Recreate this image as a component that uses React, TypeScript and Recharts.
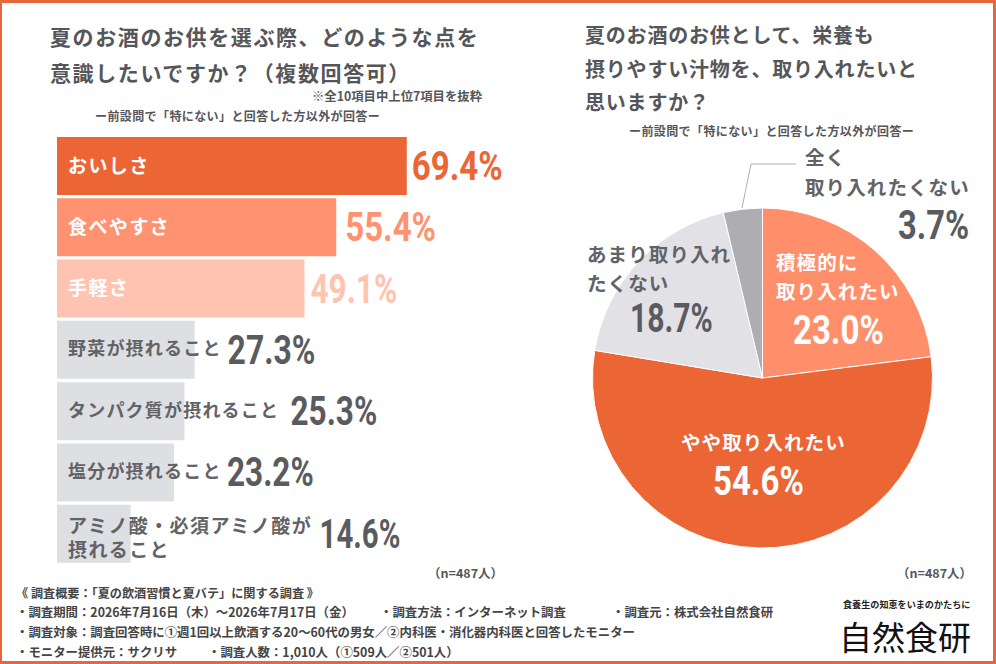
import { BarChart, Bar, Cell, XAxis, YAxis, LabelList, PieChart, Pie } from "recharts";

const categories = [
  "おいしさ",
  "食べやすさ",
  "手軽さ",
  "野菜が摂れること",
  "タンパク質が摂れること",
  "塩分が摂れること",
  "アミノ酸・必須アミノ酸が\n摂れること",
];
const shares = [69.4, 55.4, 49.1, 27.3, 25.3, 23.2, 14.6];

const pieNames = ["積極的に\n取り入れたい", "やや取り入れたい", "あまり取り入れ\nたくない", "全く\n取り入れたくない"];
const pieValues = [23.0, 54.6, 18.7, 3.7];

const barColors = ["#EB6535", "#FF9270", "#FFC3B2", "#DEDFE3", "#DEDFE3", "#DEDFE3", "#DEDFE3"];
const barTextColors = ["#fff", "#fff", "#fff", "#626367", "#626367", "#626367", "#626367"];
const barValueColors = ["#EB6535", "#FF9270", "#FFC3B2", "#5A5B5F", "#5A5B5F", "#5A5B5F", "#5A5B5F"];
// distance from the bar end to the start of its percent label, and the label's drawn width
const valueGaps = [5, 9, 6, 33, 106, 53, 189];
const valueWidths = [90, 90, 86, 87, 86, 86, 80];

const pieColors = ["#FF8F6B", "#EB6535", "#E1E1E6", "#AEADB2"];
const BORDER = "#E8663D";
const INK = "#555659";
const JP = '"Noto Sans CJK JP", "Noto Sans", sans-serif';
const NUM = "Roboto, sans-serif";
// width of "00.0%" in bold Roboto at 40px, used to squeeze the numbers into a condensed look
const NUM_BASE_WIDTH = 109;

const PIE_LEFT = 542;
const PIE_TOP = 128;
// page position of each pie label: text start, first line centre, value start, value centre
const pieLabelBoxes = [
  { x: 776, y: 261, vx: 793, vy: 330, vw: 90, color: "#fff", valueColor: "#fff", step: 29 },
  { x: 681, y: 441, vx: 713, vy: 481, vw: 90, color: "#fff", valueColor: "#fff", step: 29 },
  { x: 587, y: 253, vx: 630, vy: 318, vw: 82, color: "#626367", valueColor: "#5A5B5F", step: 29 },
  { x: 805, y: 156, vx: 898, vy: 225, vw: 71, color: "#626367", valueColor: "#5A5B5F", step: 30 },
];

const barData = categories.map((name, i) => ({ name, value: shares[i] }));
const pieData = pieNames.map((name, i) => ({ name, value: pieValues[i], fill: pieColors[i] }));

function Percent({ x, y, width, fill, base = NUM_BASE_WIDTH, value }: any) {
  return (
    <text
      transform={`translate(${x} ${y}) scale(${width / base} 1)`}
      fill={fill}
      style={{ fontFamily: NUM, fontWeight: 700, fontSize: 40 }}
    >
      {value.toFixed(1)}%
    </text>
  );
}

function BarName(props: any) {
  const { y, height, index } = props;
  const lines = categories[index].split("\n");
  const cy = y + height / 2 - 2.5;
  const two = lines.length > 1;
  return (
    <text
      fill={barTextColors[index]}
      dominantBaseline="central"
      style={{ fontFamily: JP, fontWeight: 700, fontSize: index < 3 || two ? 19 : 18, letterSpacing: index < 3 || two ? 1.4 : 1.2 }}
    >
      {lines.map((line: string, i: number) => (
        <tspan key={i} x={11} y={cy + (two ? (i === 0 ? -7 : 17) : 0)} dominantBaseline="central">
          {line}
        </tspan>
      ))}
    </text>
  );
}

function BarValue(props: any) {
  const { x, y, width, height, index, value } = props;
  return (
    <Percent
      x={x + width + valueGaps[index]}
      y={y + height / 2 + 14}
      width={valueWidths[index]}
      fill={barValueColors[index]}
      value={value}
    />
  );
}

function PieLabel(props: any) {
  const { index } = props;
  const box = pieLabelBoxes[index];
  const lines = pieNames[index].split("\n");
  return (
    <g>
      <text
        fill={box.color}
        dominantBaseline="central"
        style={{ fontFamily: JP, fontWeight: 700, fontSize: 19.5, letterSpacing: 1.1 }}
      >
        {lines.map((line, i) => (
          <tspan key={i} x={box.x - PIE_LEFT} y={box.y - PIE_TOP + i * box.step} dominantBaseline="central">
            {line}
          </tspan>
        ))}
      </text>
      <Percent
        x={box.vx - PIE_LEFT}
        y={box.vy - PIE_TOP + 14}
        width={box.vw}
        base={box.vw === 71 ? 87 : NUM_BASE_WIDTH}
        fill={box.valueColor}
        value={pieValues[index]}
      />
    </g>
  );
}

function Txt({ x, y, size, children, color = INK, weight = 700, spacing = 0 }: any) {
  return (
    <div
      style={{
        position: "absolute",
        left: x,
        top: y,
        transform: "translateY(-50%)",
        whiteSpace: "nowrap",
        fontFamily: JP,
        fontSize: size,
        fontWeight: weight,
        color,
        letterSpacing: spacing,
        lineHeight: 1,
      }}
    >
      {children}
    </div>
  );
}

export default function App() {
  return (
    <div
      style={{
        position: "absolute",
        left: 0,
        top: 0,
        width: 996,
        height: 664,
        background: "#fff",
        overflow: "hidden",
        boxSizing: "border-box",
        border: `3px solid ${BORDER}`,
        borderLeftWidth: 2,
      }}
    >
      <div style={{ position: "absolute", left: -2, top: -3, width: 996, height: 664 }}>
        <Txt x={50} y={36} size={21} spacing={1.6}>夏のお酒のお供を選ぶ際、どのような点を</Txt>
        <Txt x={50} y={72} size={21} spacing={1.6}>意識したいですか？（複数回答可）</Txt>
        <Txt x={312} y={96} size={12.35}>※全10項目中上位7項目を抜粋</Txt>
        <Txt x={95} y={116} size={12} spacing={0.4}>ー前設問で「特にない」と回答した方以外が回答ー</Txt>

        <div style={{ position: "absolute", left: 57, top: 135 }}>
          <BarChart
            width={504}
            height={429}
            data={barData}
            layout="vertical"
            margin={{ top: 0, right: 0, bottom: 0, left: 0 }}
          >
            <XAxis type="number" domain={[0, 100]} hide />
            <YAxis type="category" dataKey="name" hide />
            <Bar dataKey="value" barSize={58} isAnimationActive={false}>
              {barData.map((d, i) => (
                <Cell key={d.name} fill={barColors[i]} />
              ))}
              <LabelList dataKey="value" content={<BarName />} />
              <LabelList dataKey="value" content={<BarValue />} />
            </Bar>
          </BarChart>
        </div>
        <Txt x={428} y={573} size={12.5}>（n=487人）</Txt>

        <Txt x={585} y={35} size={20} spacing={0.8}>夏のお酒のお供として、栄養も</Txt>
        <Txt x={585} y={69} size={20} spacing={0.8}>摂りやすい汁物を、取り入れたいと</Txt>
        <Txt x={585} y={102} size={20} spacing={0.8}>思いますか？</Txt>
        <Txt x={629} y={131} size={12} spacing={0.4}>ー前設問で「特にない」と回答した方以外が回答ー</Txt>

        <div style={{ position: "absolute", left: PIE_LEFT, top: PIE_TOP }}>
          <PieChart width={440} height={430} margin={{ top: 0, right: 0, bottom: 0, left: 0 }}>
            <Pie
              data={pieData}
              dataKey="value"
              cx={220.5}
              cy={250}
              outerRadius={170}
              startAngle={90}
              endAngle={-270}
              stroke="#fff"
              strokeWidth={1}
              label={<PieLabel />}
              labelLine={false}
              isAnimationActive={false}
            />
          </PieChart>
        </div>
        <svg style={{ position: "absolute", left: 0, top: 0 }} width={996} height={664}>
          <polyline points="742,208 751,164 796,164" fill="none" stroke="#AEADB2" strokeWidth={1} />
        </svg>
        <Txt x={897} y={573} size={12.5}>（n=487人）</Txt>

        <Txt x={16} y={593} size={12.15} color="#444">《 調査概要：「夏の飲酒習慣と夏バテ」に関する調査 》</Txt>
        <Txt x={16} y={612} size={12.4} color="#444">・調査期間：2026年7月16日（木）～2026年7月17日（金）</Txt>
        <Txt x={380} y={612} size={12.4} color="#444">・調査方法：インターネット調査</Txt>
        <Txt x={612} y={612} size={12.4} color="#444">・調査元：株式会社自然食研</Txt>
        <Txt x={16} y={632} size={12.4} color="#444">・調査対象：調査回答時に①週1回以上飲酒する20～60代の男女／②内科医・消化器内科医と回答したモニター</Txt>
        <Txt x={16} y={652} size={12.4} color="#444">・モニター提供元：サクリサ</Txt>
        <Txt x={208} y={652} size={12.4} color="#444">・調査人数：1,010人（①509人／②501人）</Txt>

        <Txt x={843} y={605} size={9.1} color="#222">食養生の知恵をいまのかたちに</Txt>
        <Txt x={839} y={636} size={33} color="#111" weight={400}>自然食研</Txt>
      </div>
    </div>
  );
}
